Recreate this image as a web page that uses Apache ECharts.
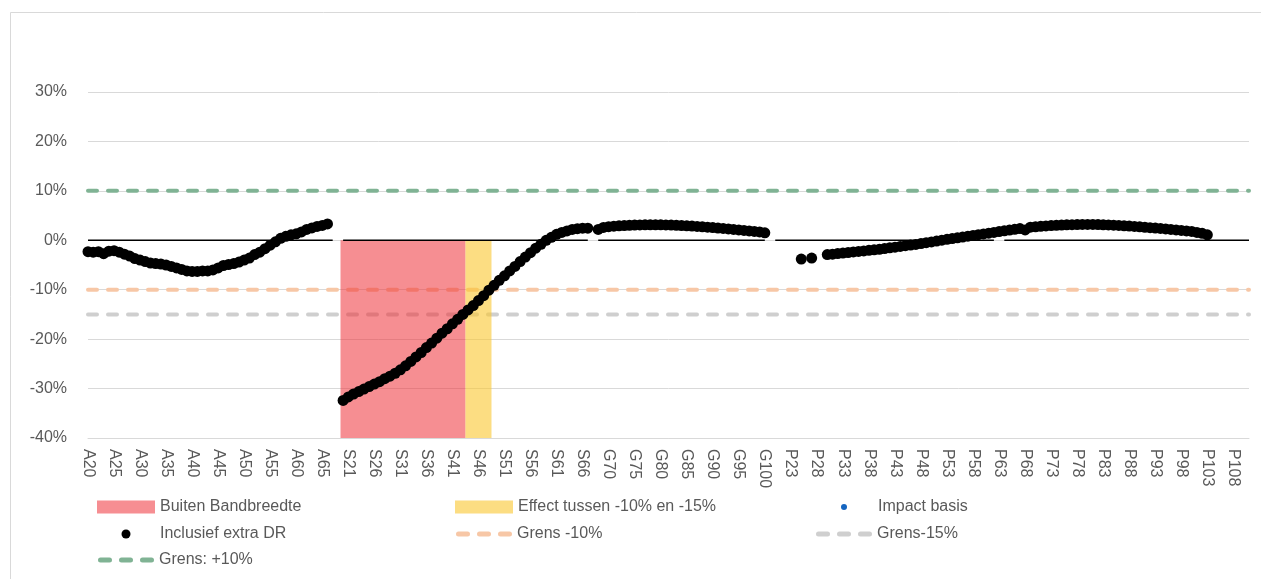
<!DOCTYPE html>
<html>
<head>
<meta charset="utf-8">
<script src="https://cdn.jsdelivr.net/npm/echarts/dist/echarts.min.js"></script>
<style>
html,body{margin:0;padding:0;background:#ffffff;}
#chart{width:1261px;height:579px;}
</style>
</head>
<body>
<div id="chart"></div>
<script>
// Category groups: [prefix, first number, last number]
const groups = [['A', 20, 68], ['S', 20, 67], ['G', 67, 100], ['P', 19, 111]];

// "Inclusief extra DR" values (%) per group, one entry per category of the group
const aValues = [-2.3,-2.4,-2.3,-2.7,-2.2,-2.1,-2.4,-2.8,-3.2,-3.7,
  -4.0,-4.3,-4.6,-4.7,-4.8,-5.0,-5.3,-5.6,-5.9,-6.2,
  -6.3,-6.3,-6.2,-6.2,-6.0,-5.6,-5.1,-4.9,-4.7,-4.4,
  -4.0,-3.6,-2.9,-2.4,-1.7,-1.0,-0.3,0.4,0.8,1.1,
  1.3,1.7,2.2,2.5,2.8,3.0,3.3,null,null];
const sValues = [-32.4,-31.7,-31.1,-30.6,-30.1,-29.6,-29.1,-28.6,-28.0,-27.5,
  -26.9,-26.2,-25.4,-24.5,-23.6,-22.7,-21.7,-20.8,-19.8,-18.8,
  -17.9,-16.9,-16.0,-15.0,-14.1,-13.2,-12.2,-11.2,-10.1,-9.1,
  -8.1,-7.2,-6.2,-5.3,-4.3,-3.4,-2.5,-1.6,-0.8,0.0,
  0.6,1.2,1.6,1.9,2.2,2.35,2.45,2.45];
const gValues = [null,2.2,2.6,2.75,2.85,2.92,2.98,3.03,3.07,3.1,3.12,
  3.13,3.13,3.12,3.1,3.07,3.03,2.98,2.93,2.87,2.8,
  2.73,2.65,2.57,2.48,2.39,2.3,2.2,2.1,2.0,1.9,
  1.8,1.7,1.5];
const pValues = [null,null,null,null,null,null,-3.8,null,-3.6,null,null,
  -2.90,-2.80,-2.69,-2.58,-2.47,-2.36,-2.26,-2.15,-2.04,-1.93,
  -1.82,-1.67,-1.53,-1.39,-1.25,-1.10,-0.96,-0.83,-0.66,-0.49,
  -0.33,-0.16,0.02,0.19,0.35,0.51,0.66,0.82,0.98,1.14,
  1.29,1.44,1.60,1.76,1.91,2.07,2.22,2.38,2.1,
  2.65,2.74,2.82,2.9,2.97,3.03,3.08,3.12,3.15,3.18,
  3.2,3.2,3.2,3.18,3.14,3.1,3.05,3.0,2.94,2.87,
  2.8,2.72,2.64,2.56,2.48,2.4,2.3,2.2,2.1,2.0,
  1.9,1.8,1.6,1.4,1.1,
  null,null,null,null,null,null,null,null];

// "Impact basis" (hidden under the black markers in the reference)
const impactBasis = [];

// Zero line: categories where the baseline is interrupted
const baselineBreaks = ['A68', 'G67', 'P19', 'P63'];

// Shaded ranges (category name from .. to) and their depth (%)
const buitenRange = ['S20', 'S43'];
const effectRange = ['S44', 'S48'];
const bandDepth = -40;

// Limits (%)
const grensPlus10 = 10;
const grensMin10 = -10;
const grensMin15 = -15;

// Y axis
const yMin = -40, yMax = 30, yStep = 10;

// ---- build ----
const categories = [];
groups.forEach(([p, a, b]) => { for (let n = a; n <= b; n++) categories.push(p + n); });
const allValues = [].concat(aValues, sValues, gValues, pValues).map(v => v === null ? '-' : v);
const idx = c => categories.indexOf(c);
function rangeBar(r) {
  const i0 = idx(r[0]), i1 = idx(r[1]);
  return categories.map((c, i) => (i >= i0 && i <= i1) ? bandDepth : '-');
}
const constant = v => categories.map(() => v);
const baseline = categories.map(c => baselineBreaks.includes(c) ? '-' : 0);

const FONT = "'Liberation Sans', Arial, sans-serif";
const TXT = '#595959';
const GREEN = '#80b394', ORANGE = '#f7c7a6', GREY = '#cfcfcf';
const DASH_ICON = 'path://M2.5,0h9a2.5,2.5 0 0 1 0,5h-9a2.5,2.5 0 0 1 0,-5z M23.5,0h9a2.5,2.5 0 0 1 0,5h-9a2.5,2.5 0 0 1 0,-5z M44.5,0h9a2.5,2.5 0 0 1 0,5h-9a2.5,2.5 0 0 1 0,-5z';

const chart = echarts.init(document.getElementById('chart'), null, {renderer: 'canvas'});

function leg(name, left, cy, extra) {
  return Object.assign({
    data: [name], left: left, top: cy - 8, itemWidth: 58, itemHeight: 13,
    padding: 0, selectedMode: false,
    textStyle: {color: TXT, fontSize: 16, fontFamily: FONT}
  }, extra || {});
}

const dashStyle = (color) => ({color: color, width: 4, type: [9, 11], cap: 'round'});

chart.setOption({
  animation: false,
  backgroundColor: '#ffffff',
  textStyle: {fontFamily: FONT},
  graphic: [{
    type: 'rect', shape: {x: 10.5, y: 12.5, width: 1400, height: 700},
    style: {fill: 'none', stroke: '#d9d9d9', lineWidth: 1}, silent: true, z: -10
  }],
  grid: {left: 88, right: 12, top: 92, bottom: 141, containLabel: false},
  legend: [
    leg('Buiten Bandbreedte', 97, 507, {icon: 'rect'}),
    leg('Effect tussen -10% en -15%', 455, 507, {icon: 'rect'}),
    leg('Impact basis', 815 + 26, 507, {icon: 'circle', itemHeight: 6}),
    leg('Inclusief extra DR', 97 + 24.5, 534, {icon: 'circle', itemHeight: 9}),
    leg('Grens -10%', 456, 534, {icon: DASH_ICON, itemWidth: 56, itemHeight: 5}),
    leg('Grens-15%', 816, 534, {icon: DASH_ICON, itemWidth: 56, itemHeight: 5}),
    leg('Grens: +10%', 98, 560, {icon: DASH_ICON, itemWidth: 56, itemHeight: 5})
  ],
  xAxis: {
    type: 'category',
    data: categories,
    boundaryGap: false,
    axisLine: {show: true, onZero: false, lineStyle: {color: '#d9d9d9', width: 1}},
    axisTick: {show: false},
    axisLabel: {interval: 4, rotate: -90, margin: 11, color: TXT, fontSize: 16, fontFamily: FONT},
    splitLine: {show: false}
  },
  yAxis: {
    type: 'value',
    min: yMin, max: yMax, interval: yStep,
    axisLine: {show: false},
    axisTick: {show: false},
    axisLabel: {formatter: '{value}%', color: TXT, fontSize: 16, fontFamily: FONT, margin: 21},
    splitLine: {show: true, lineStyle: {color: '#d9d9d9', width: 1}}
  },
  series: [
    {name: 'Grens: +10%', type: 'line', data: constant(grensPlus10), symbol: 'none', showSymbol: false,
     lineStyle: dashStyle(GREEN), itemStyle: {color: GREEN}, z: 1, silent: true},
    {name: 'Grens -10%', type: 'line', data: constant(grensMin10), symbol: 'none', showSymbol: false,
     lineStyle: dashStyle(ORANGE), itemStyle: {color: ORANGE}, z: 1, silent: true},
    {name: 'Grens-15%', type: 'line', data: constant(grensMin15), symbol: 'none', showSymbol: false,
     lineStyle: dashStyle(GREY), itemStyle: {color: GREY}, z: 1, silent: true},
    {name: 'Buiten Bandbreedte', type: 'bar', data: rangeBar(buitenRange), barCategoryGap: 0, barGap: '-100%',
     large: true, largeThreshold: 1,
     itemStyle: {color: 'rgba(238,50,56,0.55)'}, z: 2, silent: true},
    {name: 'Effect tussen -10% en -15%', type: 'bar', data: rangeBar(effectRange), barCategoryGap: 0, barGap: '-100%',
     large: true, largeThreshold: 1,
     itemStyle: {color: 'rgba(250,198,46,0.6)'}, z: 2, silent: true},
    {name: 'Nullijn', type: 'line', data: baseline, symbol: 'none', showSymbol: false, connectNulls: false,
     lineStyle: {color: '#000000', width: 1.5}, z: 3, silent: true},
    {name: 'Impact basis', type: 'scatter', data: impactBasis, symbolSize: 6,
     itemStyle: {color: '#1565c0', opacity: 1}, z: 4, silent: true},
    {name: 'Inclusief extra DR', type: 'scatter', data: allValues, symbol: 'circle', symbolSize: 11,
     itemStyle: {color: '#000000', opacity: 1}, z: 5, silent: true}
  ]
});
</script>
</body>
</html>
